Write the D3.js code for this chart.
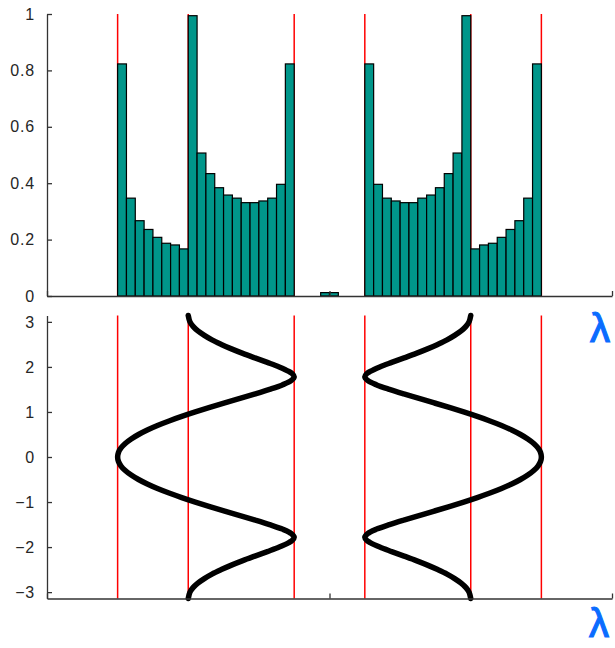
<!DOCTYPE html>
<html>
<head>
<meta charset="utf-8">
<script src="https://cdn.jsdelivr.net/npm/d3@7"></script>
<style>
  body { margin: 0; background: #fff; overflow: hidden; }
  svg { display: block; }
</style>
</head>
<body>
<svg id="chart" width="615" height="648"></svg>
<script>
// Density of states histogram (bin width 1/32 in energy)
const binWidth = 1 / 32;
const lowerBandStart = -0.75;
const upperBandStart = 0.125;
const centreStart = -1 / 32;
const lowerBandDensity = [0.823, 0.347, 0.267, 0.236, 0.208, 0.187, 0.181, 0.167, 0.994, 0.507,
                          0.434, 0.384, 0.358, 0.347, 0.331, 0.331, 0.337, 0.347, 0.396, 0.823];
const upperBandDensity = [0.823, 0.396, 0.347, 0.337, 0.331, 0.331, 0.347, 0.358, 0.384, 0.434,
                          0.507, 0.994, 0.167, 0.181, 0.187, 0.208, 0.236, 0.267, 0.347, 0.823];
const centreDensity = [0.012, 0.012];

// Band edges / van Hove energies marked in both panels
const bandEdges = [-0.75, -0.5, -0.125, 0.125, 0.5, 0.75];

const densityTicks = [0, 0.2, 0.4, 0.6, 0.8, 1];
const momentumTicks = [-3, -2, -1, 0, 1, 2, 3];
const energyTicks = [-1, 0, 1];

// Dispersion: energy of the two bands against momentum k
const momentum = [-3.1416, -3.0, -2.9, -2.8, -2.7, -2.6, -2.5, -2.4, -2.3, -2.2, -2.1, -2.0,
                  -1.9, -1.85, -1.78, -1.7, -1.6, -1.5, -1.4, -1.3, -1.2, -1.1, -1.0,
                  -0.9, -0.8, -0.7, -0.6, -0.5, -0.4, -0.3, -0.2, -0.1, 0,
                  0.1, 0.2, 0.3, 0.4, 0.5, 0.6, 0.7, 0.8, 0.9,
                  1.0, 1.1, 1.2, 1.3, 1.4, 1.5, 1.6, 1.7, 1.78, 1.85, 1.9,
                  2.0, 2.1, 2.2, 2.3, 2.4, 2.5, 2.6, 2.7, 2.8, 2.9, 3.0, 3.1416];
const upperBand = [0.500, 0.494, 0.483, 0.466, 0.443, 0.416, 0.383, 0.347, 0.307, 0.264, 0.220, 0.178,
                   0.144, 0.132, 0.125, 0.135, 0.167, 0.212, 0.263, 0.317, 0.371, 0.424, 0.475,
                   0.523, 0.568, 0.609, 0.645, 0.676, 0.702, 0.723, 0.738, 0.747, 0.750,
                   0.747, 0.738, 0.723, 0.702, 0.676, 0.645, 0.609, 0.568, 0.523,
                   0.475, 0.424, 0.371, 0.317, 0.263, 0.212, 0.167, 0.135, 0.125, 0.132, 0.144,
                   0.178, 0.220, 0.264, 0.307, 0.347, 0.383, 0.416, 0.443, 0.466, 0.483, 0.494, 0.500];
const lowerBand = [-0.500, -0.494, -0.483, -0.466, -0.443, -0.416, -0.383, -0.347, -0.307, -0.264, -0.220, -0.178,
                   -0.144, -0.132, -0.125, -0.135, -0.167, -0.212, -0.263, -0.317, -0.371, -0.424, -0.475,
                   -0.523, -0.568, -0.609, -0.645, -0.676, -0.702, -0.723, -0.738, -0.747, -0.750,
                   -0.747, -0.738, -0.723, -0.702, -0.676, -0.645, -0.609, -0.568, -0.523,
                   -0.475, -0.424, -0.371, -0.317, -0.263, -0.212, -0.167, -0.135, -0.125, -0.132, -0.144,
                   -0.178, -0.220, -0.264, -0.307, -0.347, -0.383, -0.416, -0.443, -0.466, -0.483, -0.494, -0.500];

const svg = d3.select("#chart");
const axisColor = "#333";
const barFill = "#00968a";
const edgeColor = "#ff0000";
const fontFamily = "'Liberation Sans', Arial, sans-serif";

const x = d3.scaleLinear().domain([-1, 1]).range([47, 612]);
const yTop = d3.scaleLinear().domain([0, 1]).range([296, 14]);
const yBot = d3.scaleLinear().domain([-Math.PI, Math.PI]).range([598.5, 315.5]);

function bins(start, values) {
  return values.map((v, i) => ({ x0: start + i * binWidth, x1: start + (i + 1) * binWidth, v }));
}
const allBins = [
  ...bins(lowerBandStart, lowerBandDensity),
  ...bins(centreStart, centreDensity),
  ...bins(upperBandStart, upperBandDensity)
];

function edgeLines(g, y) {
  g.selectAll("line.edge").data(bandEdges).join("line")
    .attr("class", "edge")
    .attr("x1", d => x(d)).attr("x2", d => x(d))
    .attr("y1", y.range()[0]).attr("y2", y.range()[1])
    .attr("stroke", edgeColor).attr("stroke-width", 1.5);
}

function styleAxis(g) {
  g.selectAll("path, line").attr("stroke", axisColor).attr("stroke-width", 1.3);
  g.selectAll("text").attr("fill", "#262626").attr("font-family", fontFamily)
    .attr("font-size", 16).attr("letter-spacing", 0.8);
}

// ----- Top panel: density of states -----
const dosPanel = svg.append("g");
edgeLines(dosPanel, yTop);
dosPanel.selectAll("rect.bin").data(allBins).join("rect")
  .attr("class", "bin")
  .attr("x", d => x(d.x0))
  .attr("width", d => x(d.x1) - x(d.x0))
  .attr("y", d => yTop(d.v))
  .attr("height", d => yTop(0) - yTop(d.v))
  .attr("fill", barFill)
  .attr("stroke", "#000")
  .attr("stroke-width", 1.2);

dosPanel.append("g").attr("transform", `translate(0,${yTop(0)})`)
  .call(d3.axisBottom(x).tickValues(energyTicks).tickSize(-5).tickSizeOuter(0).tickFormat(""))
  .call(styleAxis);
dosPanel.append("g").attr("transform", `translate(${x(-1)},0)`)
  .call(d3.axisLeft(yTop).tickValues(densityTicks).tickSize(-5).tickSizeOuter(0).tickPadding(12)
        .tickFormat(d3.format("~g")))
  .call(styleAxis);

// ----- Bottom panel: band dispersion -----
const bandPanel = svg.append("g");
edgeLines(bandPanel, yBot);
const bandLine = band => d3.line()
  .x((d, i) => x(band[i]))
  .y(d => yBot(d))
  .curve(d3.curveCatmullRom.alpha(0.5));
[lowerBand, upperBand].forEach(band => {
  bandPanel.append("path")
    .attr("d", bandLine(band)(momentum))
    .attr("fill", "none")
    .attr("stroke", "#000")
    .attr("stroke-width", 5.5)
    .attr("stroke-linecap", "round")
    .attr("stroke-linejoin", "round");
});

bandPanel.append("g").attr("transform", `translate(0,${yBot(-Math.PI)})`)
  .call(d3.axisBottom(x).tickValues(energyTicks).tickSize(-5).tickSizeOuter(0).tickFormat(""))
  .call(styleAxis);
bandPanel.append("g").attr("transform", `translate(${x(-1)},0)`)
  .call(d3.axisLeft(yBot).tickValues(momentumTicks).tickSize(-5).tickSizeOuter(0).tickPadding(12)
        .tickFormat(d3.format("d")))
  .call(styleAxis);

// Handwritten λ axis markers at the right edge
[{ px: 590, py: 342 }, { px: 589, py: 637 }].forEach(p => {
  svg.append("text")
    .attr("x", p.px).attr("y", p.py)
    .attr("fill", "#0a6cff")
    .attr("font-family", fontFamily)
    .attr("font-size", 40)
    .attr("stroke", "#0a6cff")
    .attr("stroke-width", 1.2)
    .text("λ");
});
</script>
</body>
</html>
